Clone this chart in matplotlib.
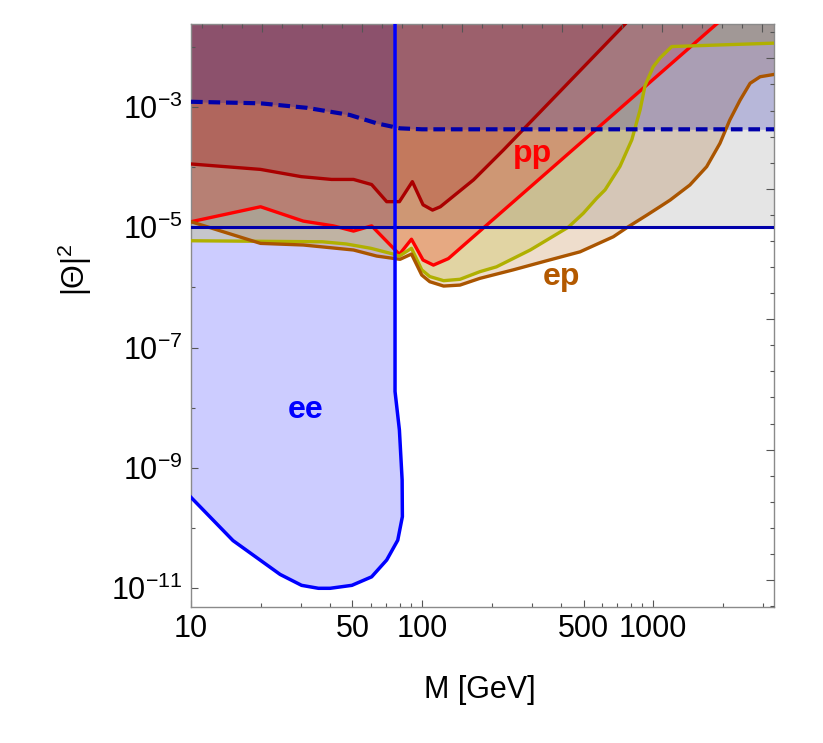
import numpy as np
import matplotlib
matplotlib.use("Agg")
import matplotlib.pyplot as plt
from matplotlib.ticker import FixedLocator, NullFormatter, FuncFormatter

plt.rcParams['font.family'] = ['Liberation Sans', 'DejaVu Sans']
plt.rcParams['mathtext.fontset'] = 'custom'
plt.rcParams['mathtext.rm'] = 'Liberation Sans'
plt.rcParams['mathtext.it'] = 'Liberation Sans:italic'
plt.rcParams['mathtext.bf'] = 'Liberation Sans:bold'
plt.rcParams['mathtext.default'] = 'regular'

# plot range
M_LO, M_HI = 10, 3350
TH_LO, TH_HI = 4.94e-12, 2.37e-2

# ee : lower edge, then up the vertical line at ~76 GeV
ee_m = [10, 15.2, 24.3, 30.1, 35.6, 40, 49.7, 60.5, 70.3, 78.5, 82.2, 82.0, 79.8, 76.4]
ee_th = [3.24e-10, 6.2e-11, 1.7e-11, 1.12e-11, 1.0e-11, 1.0e-11, 1.12e-11, 1.55e-11,
         2.95e-11, 6.3e-11, 1.55e-10, 6.3e-10, 4.27e-9, 1.86e-8]

# ee dashed line
dash_m = [10, 20, 31.7, 48.7, 63.7, 80.3, 100, 3350]
dash_th = [1.21e-3, 1.14e-3, 9.6e-4, 7.3e-4, 5.3e-4, 4.38e-4, 4.22e-4, 4.22e-4]

# horizontal line
hline_th = 1e-5

# pp dark red
ppd_m = [10, 20, 30, 40.6, 50.5, 60.5, 70.3, 79.8, 90.8, 101, 111, 120, 167, 225, 800]
ppd_th = [1.12e-4, 9.1e-5, 6.9e-5, 6.2e-5, 6.2e-5, 5.1e-5, 2.65e-5, 2.65e-5, 5.7e-5,
          2.35e-5, 1.92e-5, 2.18e-5, 6.1e-5, 1.91e-4, 2.95e-2]

# pp red
pp_m = [10, 20, 30.6, 41.3, 50.5, 60.5, 79.8, 90, 101, 112, 130, 2000]
pp_th = [1.23e-5, 2.18e-5, 1.26e-5, 1.05e-5, 8.6e-6, 1.05e-5, 3.53e-6, 6.3e-6,
         2.84e-6, 2.34e-6, 3.0e-6, 2.9e-2]

# ep yellow
epy_m = [10, 37, 47, 60, 75, 79.8, 90, 99.7, 108, 124, 146, 178, 210, 294, 430, 499,
         570, 620, 719, 809, 879, 923, 1002, 1072, 1205, 3350]
epy_th = [5.94e-6, 5.71e-6, 5.25e-6, 4.45e-6, 3.57e-6, 3.31e-6, 4.45e-6, 1.95e-6,
          1.51e-6, 1.29e-6, 1.36e-6, 1.82e-6, 2.19e-6, 4.17e-6, 1.0e-5, 1.7e-5,
          3.02e-5, 4.17e-5, 1.02e-4, 2.82e-4, 8.9e-4, 2.24e-3, 4.62e-3, 6.46e-3,
          1.0e-2, 1.14e-2]

# ep brown
epb_m = [10, 20, 30.6, 50.5, 63.6, 80.3, 90, 99.7, 108, 124, 146, 178, 248, 347, 483,
         673, 769, 939, 1072, 1186, 1443, 1706, 1948, 2148, 2381, 2630, 2906, 3350]
epb_th = [1.23e-5, 5.37e-6, 5.05e-6, 4.17e-6, 3.31e-6, 2.92e-6, 3.57e-6, 1.6e-6,
          1.24e-6, 1.05e-6, 1.09e-6, 1.41e-6, 1.95e-6, 2.77e-6, 3.89e-6, 6.92e-6,
          9.77e-6, 1.58e-5, 2.19e-5, 2.82e-5, 5.01e-5, 1.01e-4, 2.47e-4, 6.01e-4,
          1.29e-3, 2.45e-3, 3.15e-3, 3.45e-3]

x_major = [10, 50, 100, 500, 1000]
x_minor = [20, 30, 40, 60, 70, 80, 90, 200, 300, 400, 600, 700, 800, 900, 2000, 3000]
y_major = [1e-11, 1e-9, 1e-7, 1e-5, 1e-3]
y_minor = [1e-12, 1e-10, 1e-8, 1e-6, 1e-4, 1e-2]

BLUE = '#0000ff'
NAVY = '#0000aa'
DRED = '#aa0000'
RED = '#ff0000'
YEL = '#b0b000'
BRN = '#aa5500'
A = 0.2
LW = 2.4

fig = plt.figure(figsize=(8.23, 7.43), dpi=100)
ax = fig.add_axes([0.2321, 0.1834, 0.7088, 0.7843])
ax.set_xscale('log')
ax.set_yscale('log')
ax.set_xlim(M_LO, M_HI)
ax.set_ylim(TH_LO, TH_HI)

# fills, everything shaded from the curve up to the top
ax.fill(list(ee_m) + [ee_m[-1], ee_m[0]], list(ee_th) + [TH_HI, TH_HI],
        color=BLUE, alpha=A, lw=0, zorder=1)
ax.fill_between(epb_m, epb_th, TH_HI, color=BRN, alpha=A, lw=0, zorder=1)
ax.fill_between(epy_m, epy_th, TH_HI, color=YEL, alpha=A, lw=0, zorder=1)
ax.fill_between(pp_m, pp_th, TH_HI * 2, color=RED, alpha=A, lw=0, zorder=1)
ax.fill_between(ppd_m, ppd_th, TH_HI * 2, color=DRED, alpha=A, lw=0, zorder=1)
ax.axhspan(hline_th, TH_HI, color='k', alpha=0.1, lw=0, zorder=1)
ax.fill_between(dash_m, dash_th, TH_HI, color=NAVY, alpha=A, lw=0, zorder=1)

# lines
ax.plot(ppd_m, ppd_th, color=DRED, lw=LW, zorder=3)
ax.plot(pp_m, pp_th, color=RED, lw=LW, zorder=3)
ax.plot(epy_m, epy_th, color=YEL, lw=LW, zorder=3)
ax.plot(epb_m, epb_th, color=BRN, lw=LW, zorder=3)
ax.axhline(hline_th, color=NAVY, lw=2.2, zorder=4)
ax.plot(dash_m, dash_th, color=NAVY, lw=3.0, dashes=(2.8, 1.4), zorder=4)
ax.plot(list(ee_m) + [ee_m[-1]], list(ee_th) + [TH_HI * 2], color=BLUE, lw=2.5, zorder=5)

# region labels
ax.text(31.2, 6.7e-9, 'ee', color=BLUE, fontsize=23, fontweight='bold',
        ha='center', va='baseline')
ax.text(302, 1.21e-4, 'pp', color=RED, fontsize=23, fontweight='bold',
        ha='center', va='baseline')
ax.text(403, 1.11e-6, 'ep', color='#b35900', fontsize=23, fontweight='bold',
        ha='center', va='baseline')

# ticks
ax.xaxis.set_major_locator(FixedLocator(x_major))
ax.xaxis.set_minor_locator(FixedLocator(x_minor))
ax.xaxis.set_major_formatter(FuncFormatter(lambda v, p: '%d' % v))
ax.xaxis.set_minor_formatter(NullFormatter())
ax.yaxis.set_major_locator(FixedLocator(y_major))
ax.yaxis.set_minor_locator(FixedLocator(y_minor))
ax.yaxis.set_major_formatter(FuncFormatter(
    lambda v, p: r'$10^{%d}$' % int(round(np.log10(v)))))
ax.yaxis.set_minor_formatter(NullFormatter())
ax.tick_params(which='both', direction='in', top=False, right=False,
               color='#555555', width=0.8, labelsize=22)
ax.tick_params(which='major', length=5)
ax.tick_params(which='minor', length=3)
ax.tick_params(axis='x', which='major', pad=5)
ax.tick_params(axis='y', which='major', pad=6)
for s in ax.spines.values():
    s.set_color('#8a8a8a')
    s.set_linewidth(1.0)

# frame ticks on top and right
ax2 = fig.add_axes(ax.get_position(), frameon=False)
ax2.set_xlim(0, 1)
ax2.set_ylim(0, 1)
ax2.patch.set_visible(False)
top_t = 0.0194 + 0.034288 * np.arange(29)
right_t = 0.001 + 0.04476 * np.arange(23)
ax2.xaxis.tick_top()
ax2.yaxis.tick_right()
ax2.xaxis.set_major_locator(FixedLocator(top_t[3::5]))
ax2.xaxis.set_minor_locator(FixedLocator(np.delete(top_t, np.arange(3, 29, 5))))
ax2.yaxis.set_major_locator(FixedLocator(right_t[1::5]))
ax2.yaxis.set_minor_locator(FixedLocator(np.delete(right_t, np.arange(1, 23, 5))))
ax2.xaxis.set_major_formatter(NullFormatter())
ax2.yaxis.set_major_formatter(NullFormatter())
ax2.tick_params(which='both', direction='in', color='#555555', width=0.8,
                labeltop=False, labelright=False)
ax2.tick_params(which='major', length=5.5)
ax2.tick_params(which='minor', length=3.2)

fig.text(480 / 823, 1 - 690 / 743, 'M [GeV]', fontsize=22, ha='center', va='center')
fig.text(75 / 823, 1 - 270 / 743, r'$|\Theta|^2$', fontsize=22, rotation=90,
         ha='center', va='center')

fig.savefig('out.png', dpi=100)
